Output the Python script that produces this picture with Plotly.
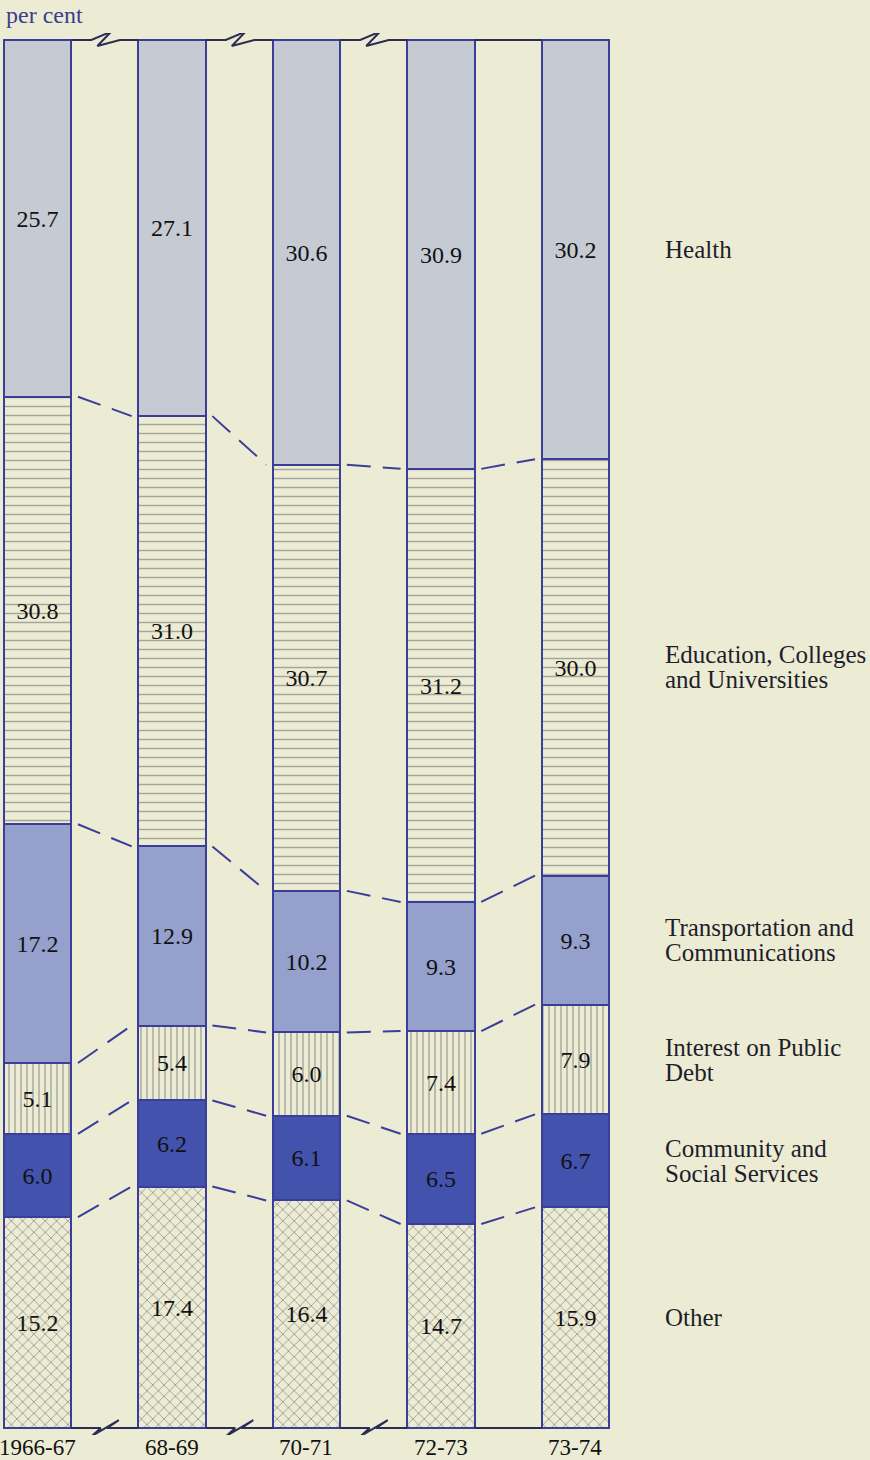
import plotly.graph_objects as go

# ---------------- data ----------------
years = ["1966-67", "68-69", "70-71", "72-73", "73-74"]
categories = ["Health", "Education, Colleges<br>and Universities",
              "Transportation and<br>Communications", "Interest on Public<br>Debt",
              "Community and<br>Social Services", "Other"]
health = [25.7, 27.1, 30.6, 30.9, 30.2]
education = [30.8, 31.0, 30.7, 31.2, 30.0]
transport = [17.2, 12.9, 10.2, 9.3, 9.3]
interest = [5.1, 5.4, 6.0, 7.4, 7.9]
community = [6.0, 6.2, 6.1, 6.5, 6.7]
other = [15.2, 17.4, 16.4, 14.7, 15.9]

# stacking order from bottom to top
series_bottom_up = [other, community, interest, transport, education, health]
names_bottom_up = categories[::-1]

# ---------------- styles ----------------
BG = "#ecebd4"
EDGE = "#3a3e98"
FONT = "Liberation Serif"
BAR_W = 0.5
styles = [
    dict(color=BG, pattern=dict(shape="x", fgcolor="#45454f", bgcolor=BG, size=8, solidity=0.2)),
    dict(color="#4252ad"),
    dict(color=BG, pattern=dict(shape="|", fgcolor="#55555c", bgcolor=BG, size=6, solidity=0.22)),
    dict(color="#95a0cd"),
    dict(color=BG, pattern=dict(shape="-", fgcolor="#5c5c64", bgcolor=BG, size=9, solidity=0.16)),
    dict(color="#c6cad3"),
]

x = list(range(len(years)))
fig = go.Figure()

for vals, name, st in zip(series_bottom_up, names_bottom_up, styles):
    marker = dict(color=st["color"], line=dict(color=EDGE, width=2))
    if "pattern" in st:
        marker["pattern"] = st["pattern"]
    fig.add_trace(go.Bar(
        x=x, y=vals, width=BAR_W, name=name, marker=marker,
        text=[f"{v:.1f}" for v in vals], textposition="inside",
        insidetextanchor="middle", textangle=0,
        textfont=dict(family=FONT, size=24, color="#111111"),
        showlegend=False, hoverinfo="y",
    ))

# boundaries (cumulative from bottom)
n = len(years)
bounds = []
cum = [0.0] * n
for vals in series_bottom_up[:-1]:
    cum = [c + v for c, v in zip(cum, vals)]
    bounds.append(cum[:])

# dashed connectors between neighbouring bars
gap = 0.05
dx, dy = [], []
for b in bounds:
    for i in range(n - 1):
        dx += [x[i] + BAR_W / 2 + gap, x[i + 1] - BAR_W / 2 - gap, None]
        dy += [b[i], b[i + 1], None]
fig.add_trace(go.Scatter(x=dx, y=dy, mode="lines", cliponaxis=False,
                         line=dict(color=EDGE, width=2, dash="24px,12px"),
                         showlegend=False, hoverinfo="skip"))

# top and bottom base lines with break marks
pxu = 134.4   # px per x unit
pyu = 13.88   # px per y unit
top_zig = [(-13.5, 0), (6.5, -8.4), (-7.5, 6.0), (15, 0)]
bot_zig = [(-4, 0), (-13, 8), (14, -8), (2, 0)]
for level, zig in ((100, top_zig), (0, bot_zig)):
    lx, ly = [], []
    for i in range(n - 1):
        xm = (x[i] + x[i + 1]) / 2
        lx.append(x[i] + BAR_W / 2)
        ly.append(level)
        if i < 3:
            for ox, oy in zig:
                lx.append(xm + ox / pxu)
                ly.append(level - oy / pyu)
        lx.append(x[i + 1] - BAR_W / 2)
        ly.append(level)
        lx.append(None)
        ly.append(None)
    fig.add_trace(go.Scatter(x=lx, y=ly, mode="lines", cliponaxis=False,
                             line=dict(color="#2b2d55", width=2),
                             showlegend=False, hoverinfo="skip"))

# right-hand category labels centred on the last bar's segments
last_centres = []
c = 0.0
for vals in series_bottom_up:
    last_centres.append(c + vals[-1] / 2)
    c += vals[-1]
for name, yc in zip(names_bottom_up, last_centres):
    lines = name.split("<br>")
    k = len(lines)
    for j, ln in enumerate(lines):
        shift = ((k - 1) / 2 - j) * 25
        fig.add_annotation(x=1.069, xref="paper", y=yc, yref="y", text=ln,
                           showarrow=False, xanchor="left", yanchor="middle",
                           yshift=shift,
                           font=dict(family=FONT, size=25, color="#1e1e2a"))

# year labels under the bars
for xi, yr in zip(x, years):
    fig.add_annotation(x=xi, xref="x", y=0, yref="y", text=yr, showarrow=False,
                       xanchor="center", yanchor="middle", yshift=-19,
                       font=dict(family=FONT, size=23, color="#111111"))

fig.add_annotation(x=0.0065, xref="paper", y=1.0128, yref="paper", text="per cent",
                   showarrow=False, xanchor="left", yanchor="middle",
                   font=dict(family=FONT, size=24, color="#3a3f8a"))

fig.update_layout(
    barmode="stack",
    width=870, height=1460,
    margin=dict(l=0, r=250, t=33, b=25),
    paper_bgcolor=BG, plot_bgcolor=BG,
    xaxis=dict(range=[-0.2798, 4.332], showticklabels=False,
               showgrid=False, zeroline=False, showline=False, ticks="",
               automargin=False, fixedrange=True),
    yaxis=dict(range=[-0.5, 100.5], showgrid=False, zeroline=False, showline=False,
               showticklabels=False, ticks="", automargin=False, fixedrange=True),
    bargap=0,
)

fig.write_html("out.html", config={"displayModeBar": False},
               post_script="document.body.style.margin='0';document.body.style.background='%s';" % BG)
